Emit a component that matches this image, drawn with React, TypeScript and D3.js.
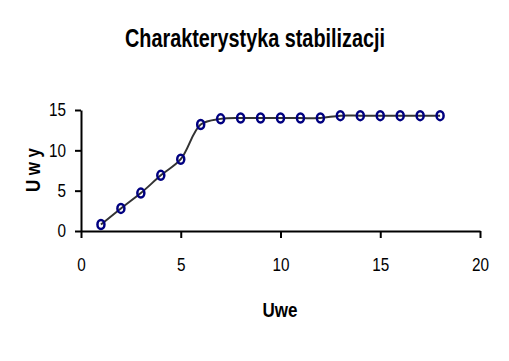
import React, { useEffect, useRef } from "react";
import * as d3 from "d3";

const uwe = [1, 2, 3, 4, 5, 6, 7, 8, 9, 10, 11, 12, 13, 14, 15, 16, 17, 18];
const uwy = [0.8, 2.8, 4.7, 6.9, 8.9, 13.2, 13.9, 14.0, 14.0, 14.0, 14.0, 14.0, 14.3, 14.3, 14.3, 14.3, 14.3, 14.3];
const xTicks = [0, 5, 10, 15, 20];
const yTicks = [0, 5, 10, 15];

const FONT = "'Liberation Sans', Arial, sans-serif";

const App = () => {
  const svgRef = useRef<SVGSVGElement>(null);

  useEffect(() => {
    const svg = d3.select(svgRef.current);
    svg.selectAll("*").remove();

    const width = 509;
    const height = 361;
    const margin = { top: 110, right: 29, bottom: 130, left: 81 };

    const x = d3.scaleLinear().domain([0, 20]).range([margin.left, width - margin.right]);
    const y = d3.scaleLinear().domain([0, 15]).range([height - margin.bottom, margin.top]);

    svg.append("rect").attr("width", width).attr("height", height).attr("fill", "#fff");

    // title (narrow look via textLength)
    svg.append("text")
      .attr("x", 255)
      .attr("y", 47)
      .attr("text-anchor", "middle")
      .attr("font-family", FONT)
      .attr("font-weight", "bold")
      .attr("font-size", 25)
      .attr("textLength", 260)
      .attr("lengthAdjust", "spacingAndGlyphs")
      .text("Charakterystyka stabilizacji");

    const styleTicks = (g: any) => {
      g.select(".domain").attr("stroke", "#000").attr("stroke-width", 2);
      g.selectAll(".tick line").attr("stroke", "#000").attr("stroke-width", 2);
      g.selectAll(".tick text")
        .attr("font-family", FONT)
        .attr("font-size", 18)
        .attr("fill", "#000")
        .attr("textLength", (d: number) => String(d).length * 8.5)
        .attr("lengthAdjust", "spacingAndGlyphs");
    };

    const xAxis = svg.append("g")
      .attr("transform", `translate(0,${y(0)})`)
      .call(d3.axisBottom(x).tickValues(xTicks).tickSize(7).tickPadding(20).tickSizeOuter(0));
    styleTicks(xAxis);

    const yAxis = svg.append("g")
      .attr("transform", `translate(${x(0)},0)`)
      .call(d3.axisLeft(y).tickValues(yTicks).tickSize(6).tickPadding(9).tickSizeOuter(0));
    styleTicks(yAxis);

    // axis titles
    svg.append("text")
      .attr("x", 280)
      .attr("y", 317)
      .attr("text-anchor", "middle")
      .attr("font-family", FONT)
      .attr("font-weight", "bold")
      .attr("font-size", 20)
      .attr("textLength", 35)
      .attr("lengthAdjust", "spacingAndGlyphs")
      .text("Uwe");

    svg.append("text")
      .attr("transform", `translate(40,170) rotate(-90)`)
      .attr("text-anchor", "middle")
      .attr("font-family", FONT)
      .attr("font-weight", "bold")
      .attr("font-size", 20)
      .attr("textLength", 44)
      .attr("lengthAdjust", "spacingAndGlyphs")
      .text("U w y");

    const data = uwe.map((v, i) => ({ x: v, y: uwy[i] }));

    const line = d3.line<{ x: number; y: number }>()
      .x(d => x(d.x))
      .y(d => y(d.y))
      .curve(d3.curveCatmullRom.alpha(0.5));

    svg.append("path")
      .datum(data)
      .attr("fill", "none")
      .attr("stroke", "#333")
      .attr("stroke-width", 2)
      .attr("d", line);

    svg.selectAll(".pt")
      .data(data)
      .enter()
      .append("ellipse")
      .attr("cx", d => x(d.x))
      .attr("cy", d => y(d.y))
      .attr("rx", 3.5)
      .attr("ry", 4.5)
      .attr("fill", "none")
      .attr("stroke", "#000080")
      .attr("stroke-width", 2.5);
  }, []);

  return (
    <svg
      ref={svgRef}
      width={509}
      height={361}
      style={{ position: "absolute", left: 0, top: 0, display: "block" }}
    />
  );
};

export default App;
